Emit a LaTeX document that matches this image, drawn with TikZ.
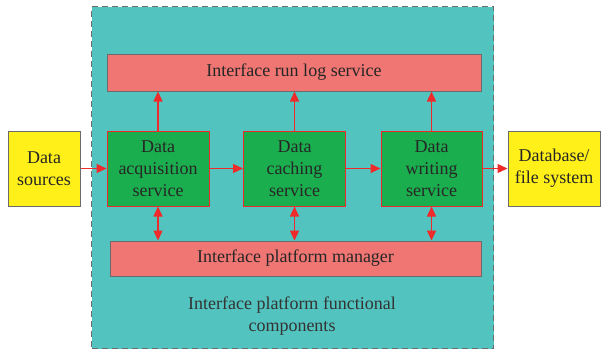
\documentclass[tikz,border=0pt]{standalone}
\usepackage{fontspec}
\setmainfont{Liberation Serif}
\usetikzlibrary{arrows.meta}
\definecolor{teal1}{HTML}{52C3BE}
\definecolor{pinkred}{HTML}{F07673}
\definecolor{gr}{HTML}{1BAE4E}
\definecolor{yel}{HTML}{FFF01A}
\definecolor{arr}{HTML}{EE2A2A}
\definecolor{bord}{HTML}{6B6B6B}
\begin{document}
\begin{tikzpicture}[x=1pt,y=-1pt,
  txt/.style={font=\fontsize{18}{22}\selectfont, align=center, text=black!85},
  logbox/.style={draw=bord, line width=1pt, fill=pinkred, inner sep=0pt, txt},
  svc/.style={draw=arr, line width=1pt, fill=gr, inner sep=0pt, txt},
  io/.style={draw=bord, line width=1pt, fill=yel, inner sep=0pt, txt},
  conn/.style={draw=arr, line width=1.3pt, -{Triangle[length=10pt,width=9pt]}},
  dconn/.style={draw=arr, line width=1.3pt, {Triangle[length=10pt,width=9pt]}-{Triangle[length=10pt,width=9pt]}}
]
\useasboundingbox (0,0) rectangle (610,351);
\node[draw=bord, dashed, dash pattern=on 6pt off 4pt, line width=1.2pt, fill=teal1, minimum width=402pt, minimum height=342pt, anchor=north west, inner sep=0pt] (frame) at (91,6) {};
\node[logbox, minimum width=374pt, minimum height=37pt] (log) at (294,72.5) {Interface run log service};
\node[logbox, minimum width=371pt, minimum height=35pt] (mgr) at (295.5,258.5) {Interface platform manager};
\node[svc, minimum width=102pt, minimum height=75pt] (acq) at (158,168.5) {Data\\acquisition\\service};
\node[svc, minimum width=102pt, minimum height=75pt] (cache) at (294.5,168.5) {Data\\caching\\service};
\node[svc, minimum width=101pt, minimum height=75pt] (write) at (431.5,168.5) {Data\\writing\\service};
\node[io, minimum width=72pt, minimum height=75pt] (src) at (44,168.5) {Data\\sources};
\node[io, minimum width=92pt, minimum height=75pt] (db) at (554,168.5) {Database/\\file system};
\node[txt, text=black!80] (lbl) at (292,316) {Interface platform functional\\components};
\draw[conn] (src) -- (acq);
\draw[conn] (acq) -- (cache);
\draw[conn] (cache) -- (write);
\draw[conn] (write) -- (db);
\draw[conn] (acq.north) -- (acq.north |- log.south);
\draw[conn] (cache.north) -- (cache.north |- log.south);
\draw[conn] (write.north) -- (write.north |- log.south);
\draw[dconn] (acq.south) -- (acq.south |- mgr.north);
\draw[dconn] (cache.south) -- (cache.south |- mgr.north);
\draw[dconn] (write.south) -- (write.south |- mgr.north);
\end{tikzpicture}
\end{document}
